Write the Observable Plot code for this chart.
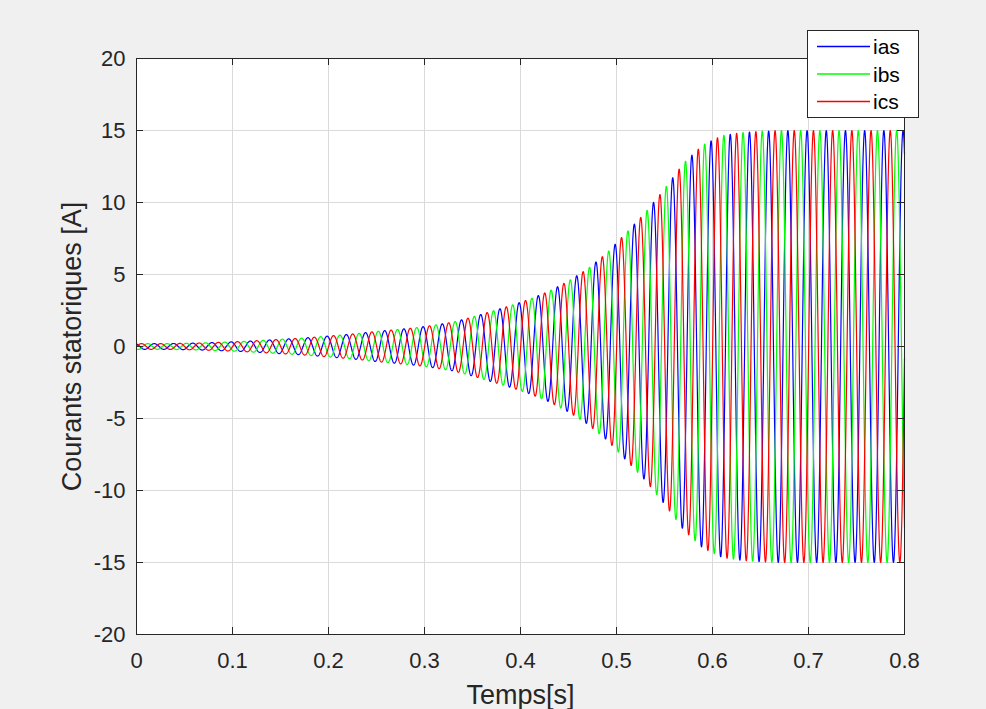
<!DOCTYPE html>
<html>
<head>
<meta charset="utf-8">
<script src="https://cdn.jsdelivr.net/npm/d3@7"></script>
<script src="https://cdn.jsdelivr.net/npm/@observablehq/plot@0.6"></script>
<style>
html, body { margin: 0; padding: 0; background: #f0f0f0; }
#wrap { position: relative; width: 986px; height: 709px; font-family: "Liberation Sans", Arial, sans-serif; }
#wrap svg { display: block; }
</style>
</head>
<body>
<div id="wrap"></div>
<script>
// ---- data ----
const seriesNames = ["ias", "ibs", "ics"];
const seriesColors = ["#0000ff", "#00ff00", "#ff0000"];
const phaseLagThirds = [0, 2, 1];      // ics peaks T/3 after ias, ibs 2T/3 after ias
const frequencyHz = 50;
const iasPeakTime = 0.0185;            // time of an ias crest (s)
const cycleCenters = [0.01, 0.03, 0.05, 0.07, 0.09, 0.11, 0.13, 0.15, 0.17, 0.19,
                      0.21, 0.23, 0.25, 0.27, 0.29, 0.31, 0.33, 0.35, 0.37, 0.39,
                      0.41, 0.43, 0.45, 0.47, 0.49, 0.51, 0.53, 0.55, 0.57, 0.59,
                      0.61, 0.63, 0.65, 0.67, 0.69, 0.71, 0.73, 0.75, 0.77, 0.79];
const cycleAmplitudes = [0.2, 0.2, 0.22, 0.25, 0.3, 0.35, 0.42, 0.5, 0.57, 0.67,
                         0.78, 0.9, 1.05, 1.17, 1.3, 1.48, 1.7, 2.05, 2.45, 2.85,
                         3.3, 3.85, 4.55, 5.4, 6.5, 7.9, 9.3, 10.95, 12.75, 14.0,
                         14.65, 14.85, 14.95, 15, 15, 15, 15, 15, 15, 15];
const timeStart = 0, timeEnd = 0.8, timeStep = 0.0002;
const xTicks = [0, 0.1, 0.2, 0.3, 0.4, 0.5, 0.6, 0.7, 0.8];
const yTicks = [-20, -15, -10, -5, 0, 5, 10, 15, 20];
const xLabel = "Temps[s]";
const yLabel = "Courants statoriques [A]";

// ---- build the waveforms ----
const envelope = d3.scaleLinear().domain(cycleCenters).range(cycleAmplitudes).clamp(true);
const nSteps = Math.round((timeEnd - timeStart) / timeStep);
const rows = [];
seriesNames.forEach((name, s) => {
  for (let k = 0; k <= nSteps; k++) {
    const t = timeStart + k * timeStep;
    const i = envelope(t) * Math.cos(2 * Math.PI * frequencyHz * (t - iasPeakTime) - phaseLagThirds[s] * 2 * Math.PI / 3);
    rows.push({name, t, i});
  }
});

// ---- layout ----
const W = 986, H = 709, ML = 136, MR = 82, MT = 58, MB = 75;
const PW = W - ML - MR, PH = H - MT - MB;
const tickLen = 7;
const ink = "#262626";
const gridColor = "#dadada";

const chart = Plot.plot({
  width: W, height: H,
  marginLeft: ML, marginRight: MR, marginTop: MT, marginBottom: MB,
  style: {background: "transparent", fontFamily: '"Liberation Sans", Arial, sans-serif', color: ink},
  x: {domain: [xTicks[0], xTicks[xTicks.length - 1]]},
  y: {domain: [yTicks[0], yTicks[yTicks.length - 1]]},
  color: {domain: seriesNames, range: seriesColors},
  marks: [
    Plot.frame({fill: "white", stroke: "none"}),
    Plot.gridX(xTicks, {stroke: gridColor, strokeOpacity: 1, strokeWidth: 1}),
    Plot.gridY(yTicks, {stroke: gridColor, strokeOpacity: 1, strokeWidth: 1}),
    Plot.line(rows, {x: "t", y: "i", z: "name", stroke: "name", strokeWidth: 1.2}),
    Plot.tickY(yTicks, {y: d => d, insetRight: PW - tickLen, stroke: ink}),
    Plot.tickY(yTicks, {y: d => d, insetLeft: PW - tickLen, stroke: ink}),
    Plot.tickX(xTicks, {x: d => d, insetBottom: PH - tickLen, stroke: ink}),
    Plot.tickX(xTicks, {x: d => d, insetTop: PH - tickLen, stroke: ink}),
    Plot.frame({stroke: ink, strokeWidth: 1}),
    Plot.axisX(xTicks, {tickSize: 0, tickPadding: 18, fontSize: 22, label: null, tickFormat: d => String(d)}),
    Plot.axisY(yTicks, {tickSize: 0, tickPadding: 11, fontSize: 22, label: null, tickFormat: d => String(d)}),
    Plot.text([yLabel], {text: d => d, frameAnchor: "left", dx: -56, rotate: -90, textAnchor: "middle", lineAnchor: "bottom", fontSize: 27, fill: ink}),
    Plot.text([xLabel], {text: d => d, frameAnchor: "bottom", dy: 69, textAnchor: "middle", lineAnchor: "bottom", fontSize: 27, fill: ink})
  ]
});

const wrap = document.getElementById("wrap");
wrap.appendChild(chart);

// ---- legend ----
const leg = d3.select(wrap).append("svg")
  .style("position", "absolute").style("left", "807px").style("top", "30px")
  .attr("width", 113).attr("height", 89);
leg.append("rect").attr("x", 0.5).attr("y", 0.5).attr("width", 111).attr("height", 87)
  .attr("fill", "white").attr("stroke", ink);
seriesNames.forEach((name, s) => {
  const y = 16.5 + s * 27.5;
  leg.append("line").attr("x1", 10).attr("x2", 63).attr("y1", y).attr("y2", y)
    .attr("stroke", seriesColors[s]).attr("stroke-width", 1.3);
  leg.append("text").attr("x", 66).attr("y", y).attr("dy", "0.36em")
    .attr("font-size", 21).attr("fill", "#000")
    .attr("font-family", '"Liberation Sans", Arial, sans-serif')
    .text(name);
});
</script>
</body>
</html>
